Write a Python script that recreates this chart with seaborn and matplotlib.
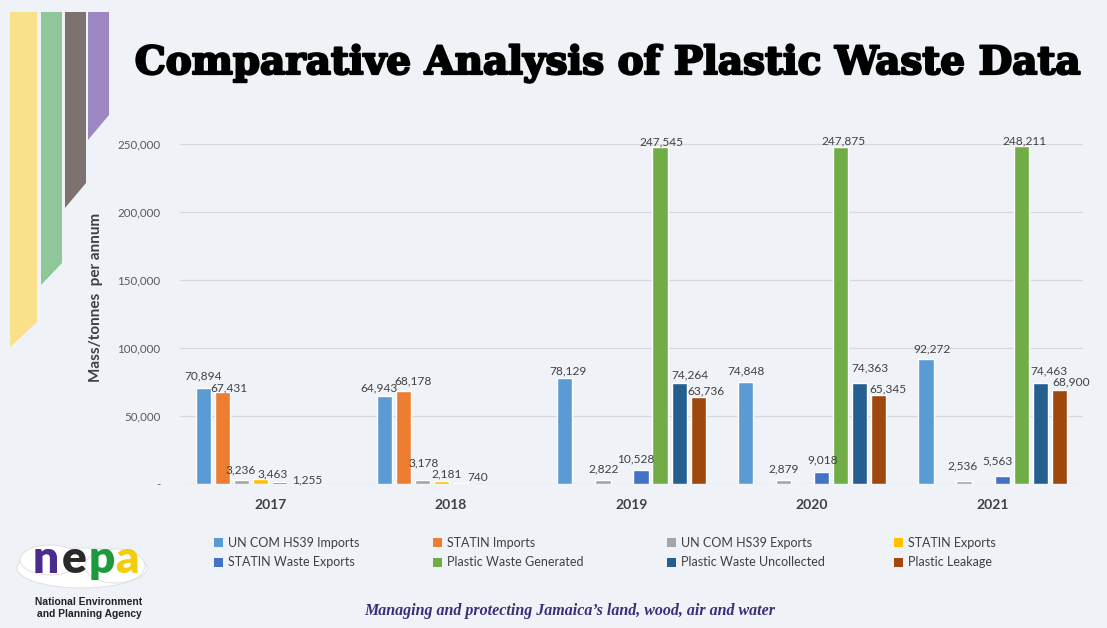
import numpy as np
import pandas as pd
import seaborn as sns
import matplotlib
matplotlib.use("Agg")
import matplotlib.pyplot as plt
from matplotlib.patches import Polygon, Patch, Ellipse
import matplotlib.patheffects as pe

# ---- data -------------------------------------------------------------
years = ["2017", "2018", "2019", "2020", "2021"]
series_names = [
    "UN COM HS39 Imports", "STATIN Imports", "UN COM HS39 Exports", "STATIN Exports",
    "STATIN Waste Exports", "Plastic Waste Generated", "Plastic Waste Uncollected",
    "Plastic Leakage",
]
un_com_imports = [70894, 64943, 78129, 74848, 92272]
statin_imports = [67431, 68178, np.nan, np.nan, np.nan]
un_com_exports = [3236, 3178, 2822, 2879, 2536]
statin_exports = [3463, 2181, np.nan, np.nan, np.nan]
statin_waste_exports = [1255, 740, 10528, 9018, 5563]
waste_generated = [np.nan, np.nan, 247545, 247875, 248211]
waste_uncollected = [np.nan, np.nan, 74264, 74363, 74463]
plastic_leakage = [np.nan, np.nan, 63736, 65345, 68900]

y_ticks = [0, 50000, 100000, 150000, 200000, 250000]
y_tick_labels = ["-", "50,000", "100,000", "150,000", "200,000", "250,000"]

colors = ["#5B9BD5", "#ED7D31", "#A5A5A5", "#FFC000",
          "#4472C4", "#70AD47", "#255E91", "#9E480E"]

all_series = [un_com_imports, statin_imports, un_com_exports, statin_exports,
              statin_waste_exports, waste_generated, waste_uncollected, plastic_leakage]
rows = []
for name, vals in zip(series_names, all_series):
    for yr, v in zip(years, vals):
        rows.append({"year": yr, "series": name, "value": v})
df = pd.DataFrame(rows).dropna()

# label nudges (dx px, gap px above bar top), keyed by (year index, series index)
label_nudge = {
    (0, 0): (0, 8), (0, 1): (6, 1), (0, 2): (-1, 6), (0, 3): (12, 2), (0, 4): (27, -1),
    (1, 0): (-5, 4), (1, 1): (10, 7), (1, 2): (1, 13), (1, 3): (5, 4), (1, 4): (17, 2),
    (2, 0): (3, 3), (2, 2): (1, 8), (2, 4): (-5, 7), (2, 5): (1, 2), (2, 6): (11, 5), (2, 7): (8, 3),
    (3, 0): (1, 8), (3, 2): (0, 8), (3, 4): (1, 8), (3, 5): (3, 2), (3, 6): (10, 11), (3, 7): (9, 3),
    (4, 0): (6, 6), (4, 2): (-2, 11), (4, 4): (-5, 12), (4, 5): (3, 2), (4, 6): (9, 8), (4, 7): (12, 5),
}

# ---- figure -------------------------------------------------------------
W, H = 1107, 628
BG = "#eff2f6"
sns.set_theme(style="white")
plt.rcParams["font.family"] = ["Lato", "DejaVu Sans"]

fig = plt.figure(figsize=(W / 100, H / 100), dpi=100, facecolor=BG)


def fx(x):
    return x / W


def fy(y):
    return 1 - y / H


# decorative stripes on the left edge
stripes = [
    ("#f9e08b", [(10, 12), (37, 12), (37, 322), (10, 347)]),
    ("#8fc79b", [(41, 12), (62, 12), (62, 263), (41, 285)]),
    ("#7c7370", [(65, 12), (86, 12), (86, 183), (65, 208)]),
    ("#9c87c1", [(88, 12), (109, 12), (109, 115), (88, 140)]),
]
for col, pts in stripes:
    fig.add_artist(Polygon([(fx(x), fy(y)) for x, y in pts], closed=True,
                           facecolor=col, edgecolor="none", transform=fig.transFigure))

ax = fig.add_axes([fx(180), fy(484), fx(1083) - fx(180), (484 - 144) / H])
ax.set_facecolor("none")

sns.barplot(data=df, x="year", y="value", hue="series", order=years,
            hue_order=series_names, palette=colors, saturation=1,
            width=0.845, gap=0.2, legend=False, ax=ax)

ax.set_ylim(0, 250000)
ax.set_yticks(y_ticks, y_tick_labels)
ax.yaxis.grid(True, color="#d9d9d9", linewidth=0.9)
ax.set_axisbelow(True)
for s in ax.spines.values():
    s.set_visible(False)
ax.tick_params(axis="both", length=0)
ax.tick_params(axis="y", pad=14, labelsize=8.3, labelcolor="#595959")
ax.tick_params(axis="x", pad=11, labelsize=10, labelcolor="#404040")
for t in ax.get_xticklabels():
    t.set_fontweight("bold")
ax.set_xlabel("")
ax.set_ylabel("")

# value labels above each bar
px2pt = 72 / 100
for s_idx, cont in enumerate(ax.containers):
    for bar in cont:
        h = bar.get_height()
        if not np.isfinite(h):
            continue
        cx = bar.get_x() + bar.get_width() / 2
        y_idx = int(round(cx))
        dx, gap = label_nudge.get((y_idx, s_idx), (0, 3))
        ax.annotate(f"{h:,.0f}", xy=(cx, h), xytext=(dx * px2pt, gap * px2pt),
                    textcoords="offset points", ha="center", va="baseline",
                    fontsize=8.6, color="#404040", annotation_clip=False)

# axis title
fig.text(fx(96), fy(297), "Mass/tonnes  per annum", rotation=90, ha="center", va="center",
         fontsize=11, fontweight="bold", color="#404040")

# legend: four columns, two rows each
handles = [Patch(facecolor=c, edgecolor="none") for c in colors]
col_x = [214, 433, 667, 894]
for ci in range(4):
    idx = [ci, ci + 4]
    fig.legend([handles[i] for i in idx], [series_names[i] for i in idx],
               loc="upper left", bbox_to_anchor=(fx(col_x[ci]), fy(537)),
               frameon=False, ncol=1, fontsize=9, handlelength=0.75, handleheight=0.75,
               handletextpad=0.35, borderpad=0, borderaxespad=0, labelspacing=0.6,
               labelcolor="#404040")

# slide title
fig.text(fx(608), fy(74), "Comparative Analysis of Plastic Waste Data", ha="center",
         va="baseline", fontsize=28, fontweight="bold", family="DejaVu Serif", color="black",
         path_effects=[pe.withStroke(linewidth=1.6, foreground="black")])

# footer slogan
fig.text(fx(570), fy(615), "Managing and protecting Jamaica\u2019s land, wood, air and water",
         ha="center", va="baseline", fontsize=11.5, fontweight="bold", fontstyle="italic",
         family="Liberation Serif", color="#3b2d78")

# agency logo
for (ex, ey, ew, eh) in [(82, 568, 130, 40), (50, 560, 60, 30), (115, 566, 60, 34)]:
    fig.add_artist(Ellipse((fx(ex), fy(ey)), ew / W, eh / H, facecolor="white",
                           edgecolor="#dcdcdc", linewidth=0.6, transform=fig.transFigure))
for ch, x, col in [("n", 46, "#4b2b8c"), ("e", 74, "#2a2a2a"), ("p", 102, "#1d9a3d"),
                   ("a", 127, "#f2cf0a")]:
    fig.text(fx(x), fy(573), ch, ha="center", va="baseline", fontsize=33,
             fontweight="heavy", color=col)
fig.text(fx(89), fy(602), "National Environment", ha="center", va="center",
         fontsize=7.4, fontweight="bold", family="Liberation Sans", color="#222222")
fig.text(fx(89), fy(614), "and Planning Agency", ha="center", va="center",
         fontsize=7.4, fontweight="bold", family="Liberation Sans", color="#222222")

fig.savefig("out.png", dpi=100, facecolor=BG)
